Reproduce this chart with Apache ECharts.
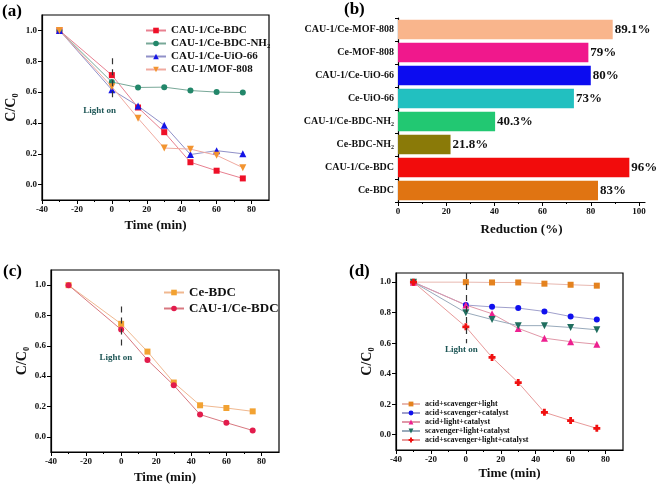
<!DOCTYPE html>
<html><head><meta charset="utf-8">
<script src="https://cdn.jsdelivr.net/npm/echarts@6/dist/echarts.min.js"></script>
<style>html,body{margin:0;padding:0;background:#fff}#c{width:656px;height:487px}</style>
</head><body><div id="c"></div><script>
// ---------- data ----------
const timePoints = [-30, 0, 15, 30, 45, 60, 75];

// (a)
const namesA = ['CAU-1/Ce-BDC', 'CAU-1/Ce-BDC-NH\u2082', 'CAU-1/Ce-UiO-66', 'CAU-1/MOF-808'];
const aCeBDC    = [1.0, 0.71, 0.50, 0.34, 0.145, 0.09, 0.04];
const aCeBDCNH2 = [1.0, 0.665, 0.63, 0.632, 0.61, 0.60, 0.597];
const aCeUiO66  = [1.0, 0.615, 0.51, 0.385, 0.195, 0.22, 0.20];
const aMOF808   = [1.0, 0.635, 0.43, 0.237, 0.23, 0.19, 0.11];

// (b)
const barCategories = ['Ce-BDC', 'CAU-1/Ce-BDC', 'Ce-BDC-NH\u2082', 'CAU-1/Ce-BDC-NH\u2082', 'Ce-UiO-66', 'CAU-1/Ce-UiO-66', 'Ce-MOF-808', 'CAU-1/Ce-MOF-808'];
const barValues = [83, 96, 21.8, 40.3, 73, 80, 79, 89.1];

// (c)
const namesC = ['Ce-BDC', 'CAU-1/Ce-BDC '];
const cCeBDC = [1.0, 0.745, 0.562, 0.358, 0.208, 0.19, 0.168];
const cCAU   = [1.0, 0.707, 0.507, 0.34, 0.147, 0.093, 0.042];

// (d)
const namesD = ['acid+scavenger+light', 'acid+scavenger+catalyst', 'acid+light+catalyst', 'scavenger+light+catalyst', 'acid+scavenger+light+catalyst'];
const dAcidScavLight    = [1.0, 1.0, 0.998, 0.998, 0.99, 0.983, 0.977];
const dAcidScavCat      = [1.0, 0.85, 0.838, 0.83, 0.808, 0.775, 0.755];
const dAcidLightCat     = [1.0, 0.85, 0.793, 0.697, 0.633, 0.61, 0.593];
const dScavLightCat     = [1.0, 0.80, 0.755, 0.715, 0.715, 0.703, 0.688];
const dAll              = [1.0, 0.707, 0.507, 0.342, 0.147, 0.093, 0.042];

// ticks
const timeTicks = [-40, -20, 0, 20, 40, 60, 80];
const ratioTicks = [0, 0.2, 0.4, 0.6, 0.8, 1.0];
const reductionTicks = [0, 20, 40, 60, 80, 100];

// "Light on" annotations: [x, yTop, yBottom, textX, textY]
const lightOnA = [0, 0.82, 0.54, -7, 0.48];
const lightOnC = [0, 0.86, 0.59, -3, 0.52];
const lightOnD = [0, 1.06, 0.60, -2.5, 0.56];

// ---------- styling ----------
const FONT = 'Liberation Serif';
const barColors = ['#e07412', '#f20c0c', '#8a7a08', '#22c872', '#22c0c0', '#0c0cf0', '#f0188c', '#f9b58c'];
const TRI_DOWN = 'path://M0,0L10,0L5,9Z';
const CROSS = 'path://M3,0L7,0L7,3L10,3L10,7L7,7L7,10L3,10L3,7L0,7L0,3L3,3Z';

const pair = ys => timePoints.map((x, i) => [x, ys[i]]);

function timeAxis(gi, gap) {
  return {
    type: 'value', gridIndex: gi, min: -40, max: 90, interval: 20,
    axisLine: { show: true, onZero: false, lineStyle: { color: '#000', width: 1.2 } },
    axisTick: { show: true, inside: false, length: 4, customValues: timeTicks, lineStyle: { color: '#000', width: 1 } },
    minorTick: { show: true, splitNumber: 2, length: 2, lineStyle: { color: '#000' } },
    axisLabel: { customValues: timeTicks, fontFamily: FONT, fontWeight: 'bold', fontSize: 9, color: '#111', margin: 5 },
    splitLine: { show: false }, minorSplitLine: { show: false },
    name: 'Time (min)', nameLocation: 'middle', nameGap: gap,
    nameTextStyle: { fontFamily: FONT, fontWeight: 'bold', fontSize: 13, color: '#111' }
  };
}
function ratioAxis(gi, max, gap) {
  return {
    type: 'value', gridIndex: gi, min: -0.1, max: max, interval: 0.1,
    axisLine: { show: true, onZero: false, lineStyle: { color: '#000', width: 1.2 } },
    axisTick: { show: true, inside: false, length: 4, customValues: ratioTicks, lineStyle: { color: '#000' } },
    axisLabel: { customValues: ratioTicks, formatter: v => v.toFixed(1), fontFamily: FONT, fontWeight: 'bold', fontSize: 9, color: '#111', margin: 5 },
    splitLine: { show: false },
    name: 'C/C\u2080', nameLocation: 'middle', nameGap: gap, nameRotate: 90,
    nameTextStyle: { fontFamily: FONT, fontWeight: 'bold', fontSize: 14, color: '#111' }
  };
}
function lineSeries(name, ys, gi, symbol, size, markerColor, lineColor) {
  return {
    type: 'line', name: name, xAxisIndex: gi, yAxisIndex: gi, data: pair(ys),
    symbol: symbol, symbolSize: size, showSymbol: true,
    itemStyle: { color: markerColor },
    lineStyle: { color: lineColor, width: 1 },
    z: 3
  };
}
function lightOn(gi, spec) {
  return {
    type: 'line', xAxisIndex: gi, yAxisIndex: gi, data: [], silent: true,
    markLine: {
      symbol: 'none', silent: true, label: { show: false },
      lineStyle: { type: [6, 5], color: '#333', width: 1.2 },
      data: [[{ coord: [spec[0], spec[1]] }, { coord: [spec[0], spec[2]] }]]
    },
    markPoint: {
      symbol: 'rect', symbolSize: 1, itemStyle: { color: 'rgba(0,0,0,0)' }, silent: true,
      label: { show: true, position: 'inside', formatter: 'Light on', fontFamily: FONT, fontWeight: 'bold', fontSize: 9, color: '#1e5656' },
      data: [{ coord: [spec[3], spec[4]] }]
    }
  };
}
const legendText = size => ({ fontFamily: FONT, fontWeight: 'bold', fontSize: size, color: '#111' });

const option = {
  animation: false,
  backgroundColor: '#fff',
  grid: [
    { left: 42, top: 15, width: 227, height: 185, show: true, borderColor: '#000', borderWidth: 1.2, backgroundColor: 'transparent' },
    { left: 398, top: 18, width: 247, height: 184, show: false },
    { left: 51, top: 270, width: 228, height: 182, show: true, borderColor: '#000', borderWidth: 1.2, backgroundColor: 'transparent' },
    { left: 396, top: 273, width: 227, height: 177, show: true, borderColor: '#000', borderWidth: 1.2, backgroundColor: 'transparent' }
  ],
  xAxis: [
    timeAxis(0, 19),
    {
      type: 'value', gridIndex: 1, min: 0, max: 102.5, interval: 20,
      axisLine: { show: true, onZero: false, lineStyle: { color: '#000', width: 1.2 } },
      axisTick: { show: true, length: 4, customValues: reductionTicks, lineStyle: { color: '#000' } },
      minorTick: { show: true, splitNumber: 2, length: 2, lineStyle: { color: '#000' } },
      axisLabel: { customValues: reductionTicks, fontFamily: FONT, fontWeight: 'bold', fontSize: 9, color: '#111', margin: 5 },
      splitLine: { show: false }, minorSplitLine: { show: false },
      name: 'Reduction (%)', nameLocation: 'middle', nameGap: 21,
      nameTextStyle: { fontFamily: FONT, fontWeight: 'bold', fontSize: 13, color: '#111' }
    },
    timeAxis(2, 19),
    timeAxis(3, 17)
  ],
  yAxis: [
    ratioAxis(0, 1.1, 24),
    {
      type: 'category', gridIndex: 1, data: barCategories,
      axisLine: { show: true, lineStyle: { color: '#000', width: 1.2 } },
      axisTick: { show: true, length: 3, lineStyle: { color: '#000' } },
      axisLabel: { fontFamily: FONT, fontWeight: 'bold', fontSize: 10, color: '#111', margin: 4 }
    },
    ratioAxis(2, 1.1, 22),
    ratioAxis(3, 1.06, 22)
  ],
  legend: [
    {
      data: namesA, orient: 'vertical', left: 140, top: 20, itemWidth: 20, itemHeight: 7, itemGap: 2,
      textStyle: legendText(11), icon: undefined
    },
    {
      data: namesC, orient: 'vertical', left: 158, top: 281, itemWidth: 20, itemHeight: 7, itemGap: 3,
      textStyle: legendText(13)
    },
    {
      data: namesD, orient: 'vertical', left: 396, top: 395, itemWidth: 18, itemHeight: 6, itemGap: 1,
      textStyle: legendText(8)
    }
  ],
  graphic: [
    { type: 'text', left: 2, top: 3, style: { text: '(a)', font: 'bold 17px "Liberation Serif"', fill: '#000' } },
    { type: 'text', left: 344, top: 1, style: { text: '(b)', font: 'bold 17px "Liberation Serif"', fill: '#000' } },
    { type: 'text', left: 3, top: 263, style: { text: '(c)', font: 'bold 17px "Liberation Serif"', fill: '#000' } },
    { type: 'text', left: 349, top: 263, style: { text: '(d)', font: 'bold 17px "Liberation Serif"', fill: '#000' } }
  ],
  series: [
    // (a)
    lineSeries(namesA[0], aCeBDC, 0, 'rect', 6, '#ee1028', '#e88090'),
    lineSeries(namesA[1], aCeBDCNH2, 0, 'circle', 6, '#23876a', '#78a898'),
    lineSeries(namesA[2], aCeUiO66, 0, 'triangle', 7, '#1414e6', '#9090c8'),
    lineSeries(namesA[3], aMOF808, 0, TRI_DOWN, 7, '#f29430', '#f0aaa0'),
    lightOn(0, lightOnA),
    // (b)
    {
      type: 'bar', xAxisIndex: 1, yAxisIndex: 1, barCategoryGap: '15%',
      data: barValues.map((v, i) => ({ value: v, itemStyle: { color: barColors[i] } })),
      label: { show: true, position: 'right', distance: 2, formatter: '{c}%', fontFamily: FONT, fontWeight: 'bold', fontSize: 13, color: '#111' }
    },
    // (c)
    lineSeries(namesC[0], cCeBDC, 2, 'rect', 6, '#f2a232', '#f0b890'),
    lineSeries(namesC[1], cCAU, 2, 'circle', 6, '#e21c4c', '#d87880'),
    lightOn(2, lightOnC),
    // (d)
    lineSeries(namesD[0], dAcidScavLight, 3, 'rect', 6, '#e4821e', '#e8b8b0'),
    lineSeries(namesD[1], dAcidScavCat, 3, 'circle', 6, '#1010ee', '#a0a0cc'),
    lineSeries(namesD[2], dAcidLightCat, 3, 'triangle', 7, '#ee2090', '#e098a8'),
    lineSeries(namesD[3], dScavLightCat, 3, TRI_DOWN, 7, '#1f6e5e', '#98aabb'),
    lineSeries(namesD[4], dAll, 3, CROSS, 7, '#f01010', '#e89a9a'),
    lightOn(3, lightOnD)
  ]
};
const chart = echarts.init(document.getElementById('c'), null, { renderer: 'canvas' });
chart.setOption(option);
</script></body></html>
